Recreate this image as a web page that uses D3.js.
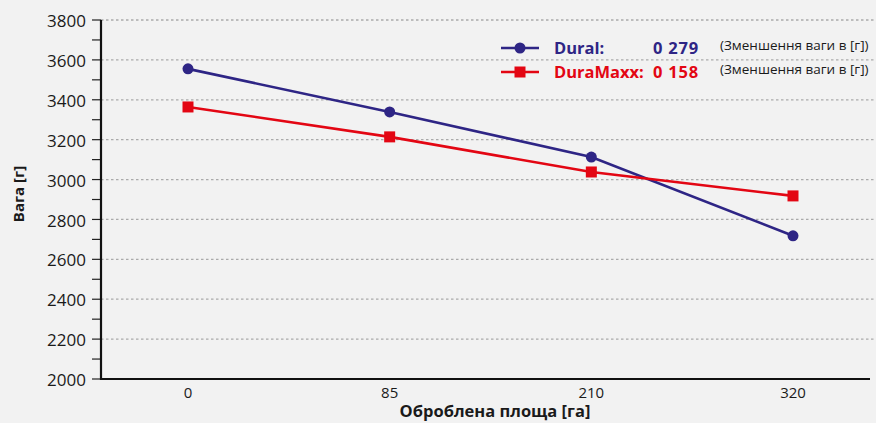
<!DOCTYPE html>
<html><head><meta charset="utf-8">
<script src="https://cdn.jsdelivr.net/npm/d3@7"></script>
<style>
body{margin:0;background:#f2f2f2;}
svg{display:block;font-family:"Open Sans","Noto Sans",sans-serif;}
</style></head>
<body><svg id="c" width="876" height="423"></svg>
<script>
const categories = ["0","85","210","320"];
const duralValues = [3555, 3339, 3113, 2718];
const duraMaxxValues = [3364, 3214, 3038, 2918];
const yTicks = [2000,2200,2400,2600,2800,3000,3200,3400,3600,3800];
const seriesNames = ["Dural:", "DuraMaxx:"];
const seriesReductions = ["0 279", "0 158"];
const reductionNote = "(Зменшення ваги в [г])";
const xTitle = "Оброблена площа [га]";
const yTitle = "Вага [г]";

(function(){
const colors = ["#2e2585", "#e30613"];
const svg = d3.select("#c");
const pl = 101, pr = 870, pt = 20, pb = 379;

const x = d3.scalePoint().domain(categories).range([188, 793]);
const y = d3.scaleLinear().domain([2000, 3800]).range([pb, pt]);

// grid
svg.append("g").selectAll("line").data(yTicks.slice(1)).join("line")
  .attr("x1", pl).attr("x2", 876)
  .attr("y1", d => y(d)).attr("y2", d => y(d))
  .attr("stroke", "#aaaaaa").attr("stroke-width", 1.3).attr("stroke-dasharray", "2.5,2.5");

// y axis
const minor = d3.range(2000, 3801, 100);
const yAxis = svg.append("g").attr("transform", `translate(${pl},0)`);
yAxis.selectAll("line.t").data(minor).join("line").attr("class","t")
  .attr("x1", -9).attr("x2", 0).attr("y1", d => y(d)).attr("y2", d => y(d))
  .attr("stroke", "#222").attr("stroke-width", 1.2);
yAxis.selectAll("text").data(yTicks).join("text")
  .attr("x", -15).attr("y", d => y(d) + 1).attr("dy", "0.36em")
  .attr("text-anchor", "end").attr("font-size", 17).attr("fill", "#1a1a1a")
  .text(d => d);
yAxis.append("line").attr("x1", 0).attr("x2", 0).attr("y1", pt).attr("y2", pb + 1)
  .attr("stroke", "#111").attr("stroke-width", 2.2);

// x axis
svg.append("line").attr("x1", pl - 1).attr("x2", pr).attr("y1", pb).attr("y2", pb)
  .attr("stroke", "#111").attr("stroke-width", 2.2);
svg.append("g").selectAll("text").data(categories).join("text")
  .attr("x", d => x(d)).attr("y", 398).attr("text-anchor", "middle")
  .attr("font-size", 15).attr("fill", "#1a1a1a").text(d => d);

svg.append("text").attr("x", 495).attr("y", 417).attr("text-anchor", "middle")
  .attr("font-size", 16.5).attr("font-weight", "bold").attr("fill", "#1a1a1a").text(xTitle);
svg.append("text").attr("transform", "translate(24,194) rotate(-90)").attr("text-anchor", "middle")
  .attr("font-size", 15).attr("font-weight", "bold").attr("fill", "#1a1a1a").text(yTitle);

// series
const data = [duralValues, duraMaxxValues];
const line = d3.line().x((d,i) => x(categories[i])).y(d => y(d));
data.forEach((vals, si) => {
  svg.append("path").datum(vals).attr("d", line).attr("fill", "none")
    .attr("stroke", colors[si]).attr("stroke-width", 2.6);
  const g = svg.append("g");
  if (si === 0) {
    g.selectAll("circle").data(vals).join("circle")
      .attr("cx", (d,i) => x(categories[i])).attr("cy", d => y(d)).attr("r", 5.5)
      .attr("fill", colors[si]);
  } else {
    g.selectAll("rect").data(vals).join("rect")
      .attr("x", (d,i) => x(categories[i]) - 5.5).attr("y", d => y(d) - 5.5)
      .attr("width", 11).attr("height", 11).attr("fill", colors[si]);
  }
});

// legend
const legY = [48, 72];
seriesNames.forEach((name, si) => {
  const ly = legY[si];
  svg.append("line").attr("x1", 501).attr("x2", 539).attr("y1", ly).attr("y2", ly)
    .attr("stroke", colors[si]).attr("stroke-width", 2.6);
  if (si === 0) svg.append("circle").attr("cx", 520).attr("cy", ly).attr("r", 5.5).attr("fill", colors[si]);
  else svg.append("rect").attr("x", 514.5).attr("y", ly - 5.5).attr("width", 11).attr("height", 11).attr("fill", colors[si]);
  svg.append("text").attr("x", 554).attr("y", ly).attr("dy", "0.36em")
    .attr("font-size", 16.5).attr("font-weight", "bold").attr("fill", colors[si]).text(name);
  svg.append("text").attr("x", 699).attr("y", ly).attr("dy", "0.36em").attr("text-anchor", "end")
    .attr("font-size", 16.5).attr("font-weight", "bold").attr("letter-spacing", 0.8)
    .attr("fill", colors[si]).text(seriesReductions[si]);
  svg.append("text").attr("x", 720).attr("y", ly - 3).attr("dy", "0.36em")
    .attr("font-size", 13.5).attr("fill", "#1a1a1a").text(reductionNote);
});
})();
</script></body></html>
